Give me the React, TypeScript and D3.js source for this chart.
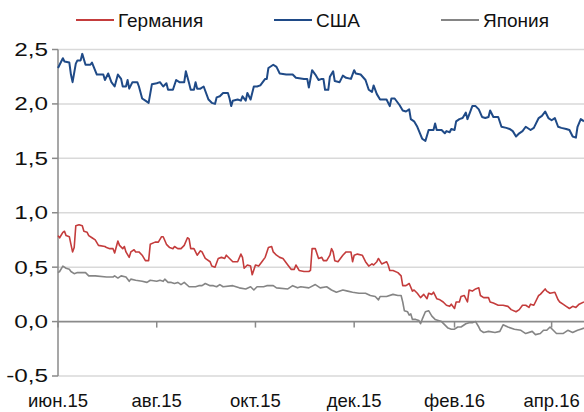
import React from "react";
import * as d3 from "d3";

const startDate = new Date(2015, 5, 1);
const endDate = new Date(2016, 3, 21);

const seriesNames = ["Германия", "США", "Япония"];
const seriesColors = ["#C43C3C", "#1F4A87", "#858585"];

const yTicks = [-0.5, 0, 0.5, 1.0, 1.5, 2.0, 2.5];
const xTickDates = [
  new Date(2015, 5, 1),
  new Date(2015, 7, 1),
  new Date(2015, 9, 1),
  new Date(2015, 11, 1),
  new Date(2016, 1, 1),
  new Date(2016, 3, 1),
];
const xTickLabels = ["июн.15", "авг.15", "окт.15", "дек.15", "фев.16", "апр.16"];

// [days since 1 Jun 2015, value]
const usa: [number, number][] = [
  [0, 2.33], [3, 2.42], [4, 2.39], [7, 2.38], [8, 2.27], [9, 2.2], [11, 2.37], [12, 2.4], [14, 2.4], [15, 2.46],
  [17, 2.36], [20, 2.36], [21, 2.38], [24, 2.27], [28, 2.27], [29, 2.22], [31, 2.28], [33, 2.2], [35, 2.16], [37, 2.27],
  [39, 2.23], [40, 2.16], [42, 2.16], [43, 2.22], [44, 2.14], [46, 2.2], [49, 2.2], [50, 2.16], [52, 2.05], [54, 2.03],
  [56, 2.01], [58, 2.18], [61, 2.19], [63, 2.2], [65, 2.16], [67, 2.19], [68, 2.13], [71, 2.13], [73, 2.22], [75, 2.2],
  [78, 2.2], [79, 2.3], [81, 2.19], [82, 2.13], [84, 2.13], [85, 2.2], [86, 2.14], [88, 2.14], [90, 2.16], [93, 2.04],
  [95, 2.01], [97, 2.0], [98, 2.06], [100, 2.07], [102, 2.1], [105, 2.1], [106, 2.05], [107, 1.98], [108, 2.03], [111, 2.04],
  [113, 2.03], [114, 2.07], [116, 2.03], [117, 2.1], [119, 2.04], [121, 2.16], [123, 2.16], [125, 2.17], [128, 2.23], [129, 2.23],
  [130, 2.33], [133, 2.36], [135, 2.34], [137, 2.28], [141, 2.27], [143, 2.27], [145, 2.27], [147, 2.24], [152, 2.23], [154, 2.23],
  [155, 2.15], [157, 2.31], [159, 2.27], [161, 2.22], [163, 2.23], [164, 2.23], [165, 2.13], [167, 2.13], [168, 2.25], [170, 2.3],
  [171, 2.21], [174, 2.2], [176, 2.26], [178, 2.24], [181, 2.23], [183, 2.31], [184, 2.28], [187, 2.27], [190, 2.22], [192, 2.13],
  [194, 2.11], [195, 2.17], [197, 2.09], [199, 2.04], [203, 2.04], [205, 1.98], [206, 2.05], [208, 2.05], [211, 1.99], [213, 1.94],
  [215, 1.93], [217, 1.95], [218, 1.86], [220, 1.84], [222, 1.79], [225, 1.68], [227, 1.66], [229, 1.76], [232, 1.76], [233, 1.82],
  [234, 1.76], [237, 1.76], [239, 1.73], [240, 1.75], [242, 1.74], [243, 1.77], [245, 1.76], [246, 1.84], [248, 1.86], [250, 1.87],
  [252, 1.92], [253, 1.86], [256, 1.98], [258, 1.98], [260, 1.95], [262, 1.88], [264, 1.87], [266, 1.88], [267, 1.94], [269, 1.88],
  [272, 1.88], [274, 1.79], [277, 1.78], [279, 1.77], [281, 1.75], [283, 1.7], [285, 1.73], [287, 1.75], [289, 1.79], [292, 1.76],
  [294, 1.78], [297, 1.87], [299, 1.89], [301, 1.93], [303, 1.87], [305, 1.85], [307, 1.87], [309, 1.79], [311, 1.78], [314, 1.77],
  [316, 1.76], [318, 1.7], [320, 1.69], [321, 1.79], [323, 1.86], [325, 1.84],
];

const germany: [number, number][] = [
  [0, 0.79], [1, 0.77], [3, 0.82], [4, 0.83], [5, 0.79], [7, 0.78], [8, 0.71], [9, 0.64], [10, 0.68], [11, 0.88],
  [13, 0.89], [15, 0.88], [16, 0.83], [18, 0.82], [19, 0.79], [21, 0.77], [23, 0.75], [25, 0.7], [29, 0.69], [30, 0.68],
  [32, 0.67], [34, 0.67], [35, 0.63], [37, 0.74], [38, 0.7], [40, 0.67], [41, 0.69], [42, 0.64], [44, 0.59], [45, 0.64],
  [47, 0.66], [48, 0.64], [50, 0.64], [52, 0.61], [54, 0.56], [56, 0.56], [57, 0.71], [60, 0.73], [62, 0.73], [64, 0.78],
  [65, 0.78], [67, 0.71], [69, 0.68], [71, 0.67], [72, 0.69], [74, 0.67], [76, 0.67], [78, 0.7], [80, 0.77], [81, 0.76],
  [82, 0.67], [84, 0.67], [86, 0.61], [88, 0.65], [89, 0.64], [91, 0.58], [94, 0.55], [95, 0.51], [97, 0.5], [99, 0.58],
  [101, 0.59], [103, 0.58], [104, 0.61], [106, 0.58], [108, 0.55], [111, 0.55], [113, 0.62], [114, 0.59], [115, 0.49], [117, 0.52],
  [119, 0.51], [120, 0.43], [122, 0.52], [124, 0.51], [126, 0.55], [128, 0.59], [130, 0.68], [132, 0.69], [133, 0.64], [135, 0.61],
  [137, 0.59], [139, 0.58], [142, 0.52], [144, 0.48], [146, 0.48], [147, 0.52], [149, 0.47], [152, 0.46], [155, 0.46], [156, 0.47],
  [157, 0.67], [159, 0.67], [161, 0.58], [163, 0.59], [164, 0.56], [166, 0.56], [168, 0.61], [169, 0.67], [170, 0.64], [171, 0.56],
  [173, 0.55], [176, 0.61], [178, 0.64], [181, 0.64], [182, 0.55], [183, 0.61], [185, 0.62], [188, 0.61], [190, 0.55], [192, 0.51],
  [194, 0.53], [195, 0.52], [197, 0.55], [198, 0.58], [200, 0.53], [203, 0.55], [204, 0.52], [205, 0.47], [207, 0.47], [210, 0.45],
  [212, 0.42], [213, 0.33], [215, 0.33], [217, 0.35], [219, 0.28], [220, 0.29], [222, 0.26], [224, 0.22], [226, 0.25], [228, 0.21],
  [229, 0.26], [231, 0.25], [232, 0.27], [234, 0.21], [236, 0.2], [238, 0.18], [240, 0.15], [242, 0.14], [243, 0.16], [245, 0.12],
  [246, 0.18], [248, 0.18], [249, 0.23], [251, 0.24], [253, 0.18], [254, 0.29], [256, 0.28], [258, 0.3], [260, 0.31], [261, 0.24],
  [263, 0.22], [266, 0.22], [267, 0.18], [269, 0.17], [272, 0.15], [275, 0.15], [278, 0.14], [280, 0.11], [283, 0.09], [285, 0.11],
  [287, 0.15], [289, 0.15], [291, 0.13], [292, 0.16], [294, 0.15], [297, 0.24], [298, 0.25], [301, 0.3], [302, 0.28], [304, 0.26],
  [307, 0.27], [309, 0.2], [310, 0.18], [312, 0.16], [314, 0.14], [316, 0.12], [318, 0.14], [320, 0.13], [322, 0.16], [325, 0.18],
];

const japan: [number, number][] = [
  [0, 0.45], [1, 0.46], [3, 0.51], [5, 0.49], [7, 0.48], [8, 0.46], [10, 0.44], [12, 0.45], [15, 0.45], [17, 0.45],
  [19, 0.42], [23, 0.42], [30, 0.41], [34, 0.41], [35, 0.42], [37, 0.4], [39, 0.42], [42, 0.41], [44, 0.37], [45, 0.39],
  [48, 0.38], [52, 0.37], [55, 0.36], [57, 0.38], [61, 0.37], [63, 0.38], [65, 0.37], [66, 0.39], [68, 0.36], [70, 0.36],
  [72, 0.35], [74, 0.36], [76, 0.34], [78, 0.36], [81, 0.32], [85, 0.32], [87, 0.33], [89, 0.33], [91, 0.35], [94, 0.33],
  [96, 0.33], [98, 0.32], [100, 0.34], [102, 0.32], [108, 0.33], [112, 0.31], [116, 0.3], [119, 0.32], [121, 0.29], [123, 0.32],
  [127, 0.32], [129, 0.33], [133, 0.33], [135, 0.31], [142, 0.3], [145, 0.33], [148, 0.31], [150, 0.32], [155, 0.31], [159, 0.34],
  [162, 0.31], [166, 0.32], [169, 0.29], [172, 0.27], [176, 0.29], [179, 0.28], [182, 0.27], [186, 0.26], [190, 0.26], [193, 0.24],
  [196, 0.23], [198, 0.2], [199, 0.23], [203, 0.23], [207, 0.25], [210, 0.24], [212, 0.24], [213, 0.18], [214, 0.1], [216, 0.09],
  [217, 0.06], [218, 0.07], [219, 0.02], [221, 0.02], [223, 0.01], [224, -0.02], [225, 0.02], [227, 0.09], [229, 0.1], [231, 0.05],
  [233, 0.02], [235, 0.01], [237, 0.0], [239, -0.03], [241, -0.06], [243, -0.07], [245, -0.07], [247, -0.05], [249, -0.05], [252, -0.02],
  [254, -0.01], [256, -0.01], [258, 0.0], [260, -0.05], [261, -0.08], [263, -0.1], [266, -0.09], [270, -0.1], [273, -0.09], [275, -0.03],
  [278, -0.05], [282, -0.07], [286, -0.08], [289, -0.11], [293, -0.09], [295, -0.12], [298, -0.11], [300, -0.08], [302, -0.08], [304, -0.05],
  [306, -0.08], [308, -0.11], [312, -0.11], [315, -0.08], [318, -0.1], [321, -0.08], [323, -0.07], [325, -0.06],
];

const W = 584;
const H = 412;
const left = 58;
const right = 584;
const top = 49.5;
const bottom = 376;
const FONT = "'Liberation Sans', Arial, sans-serif";

export default function App() {
  const x = d3.scaleTime().domain([startDate, endDate]).range([left, right]);
  const y = d3.scaleLinear().domain([-0.5, 2.5]).range([bottom, top]);
  const toDate = (d: number) => d3.timeDay.offset(startDate, d);
  const line = d3
    .line<[number, number]>()
    .x((d) => x(toDate(d[0])))
    .y((d) => y(d[1]));
  const data = [germany, usa, japan];
  const widths = [1.6, 2, 1.6];
  const legendX = [76, 274, 441];

  return (
    <svg
      width={W}
      height={H}
      style={{ position: "absolute", left: 0, top: 0, background: "#fff" }}
      fontFamily={FONT}
    >
      {yTicks
        .filter((t) => t !== 0)
        .map((t) => (
          <line key={"g" + t} x1={left} x2={right} y1={y(t)} y2={y(t)} stroke="#D9D9D9" strokeWidth={1.5} />
        ))}
      <line x1={left} x2={left} y1={top} y2={bottom} stroke="#8A8A8A" strokeWidth={1.5} />
      {yTicks.map((t) => (
        <g key={"y" + t}>
          <line x1={left - 6} x2={left} y1={y(t)} y2={y(t)} stroke="#8A8A8A" strokeWidth={1.5} />
          <text
            transform={`translate(48,${y(t)}) scale(1.35,1)`}
            dy="0.36em"
            textAnchor="end"
            fontSize={18}
            fill="#111"
          >
            {d3.format(".1f")(t).replace(".", ",").replace("−", "-")}
          </text>
        </g>
      ))}
      <line x1={left} x2={right} y1={y(0)} y2={y(0)} stroke="#8A8A8A" strokeWidth={1.8} />
      {xTickDates.map((d, i) => (
        <g key={"x" + i}>
          <line x1={x(d)} x2={x(d)} y1={y(0)} y2={y(0) + 6} stroke="#8A8A8A" strokeWidth={1.5} />
          <text x={x(d)} y={407} textAnchor="middle" fontSize={18.5} fill="#111">
            {xTickLabels[i]}
          </text>
        </g>
      ))}
      {data.map((s, i) => (
        <path key={"s" + i} d={line(s) || ""} fill="none" stroke={seriesColors[i]} strokeWidth={widths[i]} strokeLinejoin="round" />
      ))}
      {seriesNames.map((n, i) => (
        <g key={"l" + i}>
          <line x1={legendX[i]} x2={legendX[i] + 38} y1={20} y2={20} stroke={seriesColors[i]} strokeWidth={2} />
          <text x={legendX[i] + 42} y={20} dy="0.36em" fontSize={19} fill="#111">
            {n}
          </text>
        </g>
      ))}
    </svg>
  );
}
